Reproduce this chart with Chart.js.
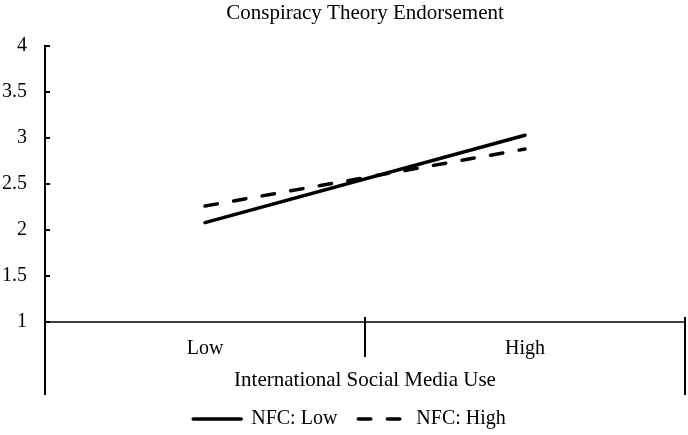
<!DOCTYPE html>
<html>
<head>
<meta charset="utf-8">
<script src="https://cdn.jsdelivr.net/npm/chart.js@4.4.0/dist/chart.umd.min.js"></script>
<style>
  html, body { margin: 0; padding: 0; background: #fff; }
  #wrap { width: 688px; height: 435px; }
</style>
</head>
<body>
<div id="wrap"><canvas id="chartCanvas" width="688" height="435"></canvas></div>
<script>
const categories = ["Low", "High"];
const nfcLow = [2.08, 3.03];
const nfcHigh = [2.26, 2.88];
const yTicks = [1, 1.5, 2, 2.5, 3, 3.5, 4];
const chartTitle = "Conspiracy Theory Endorsement";

const serif = "'Liberation Serif', 'Times New Roman', serif";

// title centred over the plot, inside ticks on y, category dividers on x
const axisDeco = {
  id: "axisDeco",
  afterLayout(chart) {
    // centre the legend under the plot rather than the whole canvas
    chart.legend.left += 14;
  },
  afterDraw(chart) {
    const { ctx, chartArea } = chart;
    const x = chart.scales.x;
    const y = chart.scales.y;
    ctx.save();
    ctx.fillStyle = "#000";
    ctx.font = "21px " + serif;
    ctx.textAlign = "center";
    ctx.textBaseline = "middle";
    ctx.fillText(chartTitle, (chartArea.left + chartArea.right) / 2, 13);

    ctx.strokeStyle = "#000";
    ctx.lineWidth = 2;
    ctx.beginPath();
    yTicks.forEach(v => {
      const py = y.getPixelForValue(v);
      ctx.moveTo(chartArea.left, py);
      ctx.lineTo(chartArea.left + 5, py);
    });
    ctx.moveTo(chartArea.left, chartArea.top);
    ctx.lineTo(chartArea.left, x.bottom + 7);
    ctx.moveTo(chartArea.right, chartArea.bottom - 5);
    ctx.lineTo(chartArea.right, x.bottom + 7);
    const mid = (x.getPixelForValue(0) + x.getPixelForValue(1)) / 2;
    ctx.moveTo(mid, chartArea.bottom - 5);
    ctx.lineTo(mid, chartArea.bottom + 35);
    ctx.stroke();
    ctx.restore();
  }
};

new Chart(document.getElementById("chartCanvas").getContext("2d"), {
  type: "line",
  data: {
    labels: categories,
    datasets: [
      {
        label: "NFC: Low",
        data: nfcLow,
        borderColor: "#000",
        backgroundColor: "#000",
        borderWidth: 3.5,
        borderCapStyle: "round",
        pointRadius: 0,
      },
      {
        label: "NFC: High",
        data: nfcHigh,
        borderColor: "#000",
        backgroundColor: "#000",
        borderWidth: 3.5,
        borderDash: [12.5, 16.5],
        borderCapStyle: "round",
        pointRadius: 0,
      },
    ],
  },
  options: {
    responsive: false,
    animation: false,
    layout: { padding: { left: 0, right: 3, top: 46, bottom: 0 } },
    scales: {
      x: {
        offset: true,
        grid: { display: false, drawTicks: false },
        border: { display: true, color: "#404040", width: 2 },
        ticks: { color: "#000", font: { family: serif, size: 20 }, padding: 15 },
        title: {
          display: true,
          text: "International Social Media Use",
          color: "#000",
          font: { family: serif, size: 21 },
          padding: { top: 0, bottom: -5 },
        },
        afterFit(scale) { scale.height = 66; },
      },
      y: {
        min: 1,
        max: 4,
        grid: { display: false, drawTicks: false },
        border: { display: true, color: "#000", width: 2 },
        ticks: {
          stepSize: 0.5,
          color: "#000",
          font: { family: serif, size: 20 },
          padding: 18,
          callback: v => String(v),
        },
        afterFit(scale) { scale.width = 45; },
      },
    },
    plugins: {
      title: { display: false },
      legend: {
        position: "bottom",
        maxHeight: 47,
        labels: {
          usePointStyle: true,
          pointStyleWidth: 48,
          color: "#000",
          font: { family: serif, size: 20 },
          padding: 21,
          generateLabels(chart) {
            return chart.data.datasets.map((ds, i) => ({
              text: ds.label,
              fillStyle: ds.borderColor,
              strokeStyle: ds.borderColor,
              lineWidth: ds.borderWidth,
              lineDash: ds.borderDash || [],
              lineCap: ds.borderCapStyle,
              pointStyle: "line",
              hidden: false,
              datasetIndex: i,
            }));
          },
        },
      },
      tooltip: { enabled: false },
    },
  },
  plugins: [axisDeco],
});
</script>
</body>
</html>
